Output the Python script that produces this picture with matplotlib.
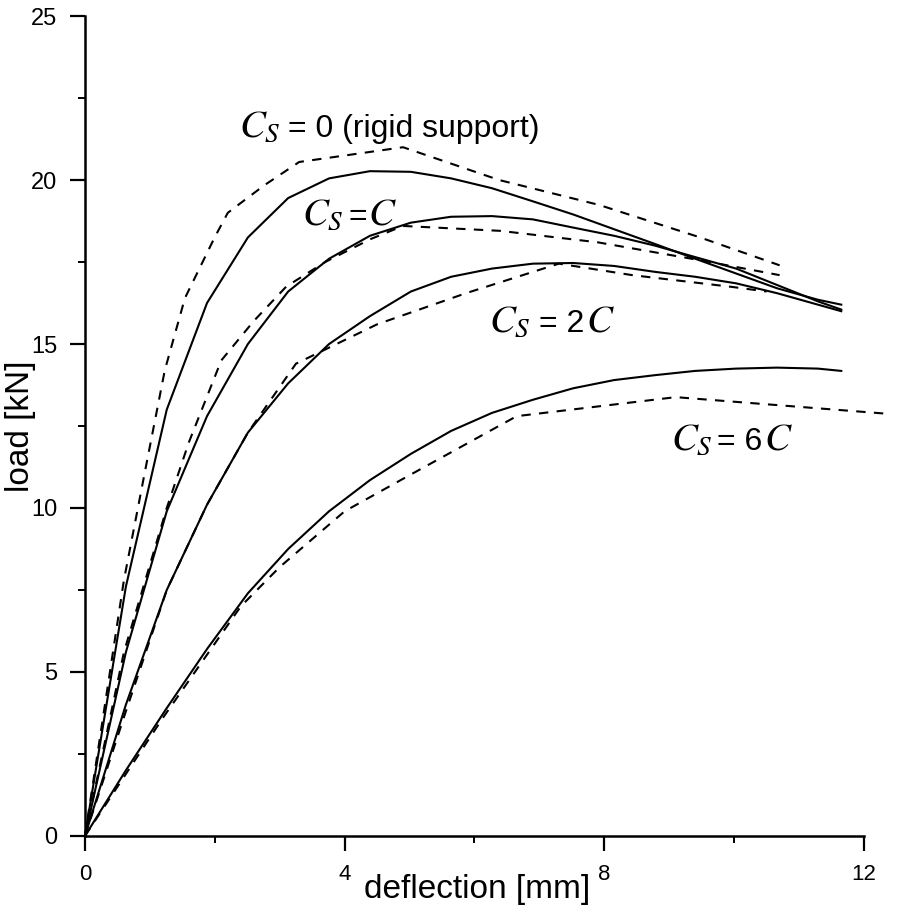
import numpy as np
import matplotlib
matplotlib.use("Agg")
import matplotlib.pyplot as plt
from matplotlib.ticker import MultipleLocator

plt.rcParams['font.family'] = ['Liberation Sans', 'DejaVu Sans']
plt.rcParams['mathtext.fontset'] = 'stix'

# computed curves (solid)
x_rigid = [0, 0.63, 1.26, 1.88, 2.51, 3.13, 3.76, 4.39, 5.02, 5.64, 6.27, 6.9,
           7.52, 8.15, 8.78, 9.4, 10.03, 10.66, 11.29, 11.65]
y_rigid = [0, 7.6, 13.0, 16.25, 18.25, 19.45, 20.05, 20.27, 20.25, 20.05, 19.75,
           19.35, 18.95, 18.5, 18.05, 17.6, 17.15, 16.7, 16.35, 16.2]

x_c = [0, 0.63, 1.26, 1.88, 2.51, 3.13, 3.76, 4.39, 5.02, 5.64, 6.27, 6.9,
       7.52, 8.15, 8.78, 9.4, 10.03, 10.66, 11.29, 11.65]
y_c = [0, 5.6, 9.9, 12.8, 15.0, 16.6, 17.6, 18.3, 18.7, 18.88, 18.9, 18.8,
       18.55, 18.3, 18.0, 17.65, 17.3, 16.8, 16.3, 16.05]

x_2c = [0, 0.63, 1.26, 1.88, 2.51, 3.13, 3.76, 4.39, 5.02, 5.64, 6.27, 6.9,
        7.52, 8.15, 8.78, 9.4, 10.03, 10.66, 11.29, 11.65]
y_2c = [0, 4.0, 7.5, 10.1, 12.3, 13.8, 15.0, 15.85, 16.6, 17.05, 17.3, 17.45,
        17.47, 17.38, 17.2, 17.05, 16.85, 16.55, 16.2, 16.0]

x_6c = [0, 0.63, 1.26, 1.88, 2.51, 3.13, 3.76, 4.39, 5.02, 5.64, 6.27, 6.9,
        7.52, 8.15, 8.78, 9.4, 10.03, 10.66, 11.29, 11.65]
y_6c = [0, 2.0, 3.9, 5.7, 7.4, 8.75, 9.9, 10.85, 11.65, 12.35, 12.9, 13.3,
        13.65, 13.9, 14.05, 14.18, 14.25, 14.28, 14.25, 14.18]

# test curves (dashed)
xd_rigid = [0, 0.6, 0.92, 1.23, 1.54, 2.0, 2.2, 2.42, 2.77, 3.3, 4.9, 6.38,
            7.92, 9.46, 10.7]
yd_rigid = [0, 7.8, 11.07, 14.2, 16.4, 18.26, 19.0, 19.33, 19.85, 20.55, 21.0,
            20.0, 19.24, 18.26, 17.4]

xd_c = [0, 0.6, 1.26, 1.6, 2.1, 2.6, 3.1, 3.7, 4.4, 4.9, 6.4, 7.9, 9.46, 10.7]
yd_c = [0, 5.6, 10.0, 12.0, 14.5, 15.7, 16.75, 17.5, 18.2, 18.6, 18.45, 18.1, 17.56, 17.1]

xd_2c = [0, 0.63, 1.26, 1.88, 2.51, 3.25, 4.5, 5.87, 7.3, 8.43, 9.97, 10.5]
yd_2c = [0, 3.8, 7.5, 10.1, 12.3, 14.4, 15.6, 16.55, 17.45, 17.1, 16.74, 16.6]

xd_6c = [0, 1.2, 2.4, 3.0, 4.0, 5.0, 6.65, 9.1, 12.38]
yd_6c = [0, 3.6, 7.0, 8.2, 9.9, 11.0, 12.8, 13.38, 12.87]

# curve labels
label_xs = [2.38, 3.34, 6.23, 9.03]
label_rest_xs = [3.12, 4.06, 7.0, 9.74]
label_ys = [21.3, 18.63, 15.37, 11.77]
label_rest = ['= 0 (rigid support)', '=', '= 2', '= 6']
label_tail = [False, True, True, True]

fig = plt.figure(figsize=(9, 9.06), dpi=100)
ax = fig.add_axes([0.0944, 0.0773, 0.8656, 0.905])

for xs, ys in [(x_rigid, y_rigid), (x_c, y_c), (x_2c, y_2c), (x_6c, y_6c)]:
    ax.plot(xs, ys, color='black', lw=1.5, clip_on=False)
for xs, ys in [(xd_rigid, yd_rigid), (xd_c, yd_c), (xd_2c, yd_2c), (xd_6c, yd_6c)]:
    ax.plot(xs, ys, color='black', lw=1.5, dashes=(4.5, 4), clip_on=False)

ax.set_xlim(0, 12)
ax.set_ylim(0, 25)
ax.spines['top'].set_visible(False)
ax.spines['right'].set_visible(False)
ax.spines['left'].set_linewidth(1.8)
ax.spines['bottom'].set_linewidth(1.8)

ax.xaxis.set_major_locator(MultipleLocator(4))
ax.xaxis.set_minor_locator(MultipleLocator(2))
ax.yaxis.set_major_locator(MultipleLocator(5))
ax.yaxis.set_minor_locator(MultipleLocator(2.5))
ax.tick_params(which='major', direction='out', length=11, width=1.6)
ax.tick_params(which='minor', direction='out', length=5, width=1.4)
ax.tick_params(axis='x', which='major', pad=9, labelsize=16)
ax.tick_params(axis='y', which='major', pad=9, labelsize=17)

ax.text(0.503, -0.0756, 'deflection [mm]', transform=ax.transAxes,
        ha='center', va='baseline', fontsize=24)
ax.text(-0.083, 0.5, 'load [kN]', transform=ax.transAxes, rotation=90,
        ha='center', va='center', fontsize=24)

fig.canvas.draw()
renderer = fig.canvas.get_renderer()
for lx, rx, ly, rest, tail in zip(label_xs, label_rest_xs, label_ys,
                                  label_rest, label_tail):
    ax.text(lx, ly, r'$C_S$', fontsize=28, va='baseline')
    t = ax.text(rx, ly, rest, fontsize=23, va='baseline')
    if tail:
        # put the italic C right after the sans part
        bb = t.get_window_extent(renderer)
        tx = ax.transData.inverted().transform((bb.x1 + 1, bb.y0))[0]
        ax.text(tx, ly, r'$C$', fontsize=28, va='baseline')

fig.savefig('out.png', dpi=100)
